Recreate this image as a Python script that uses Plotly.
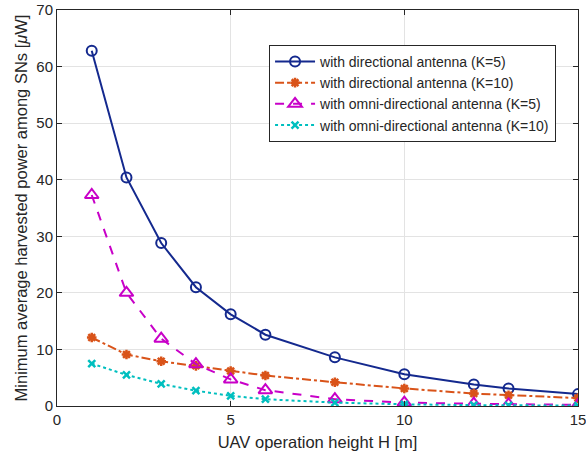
import plotly.graph_objects as go

H = [1, 2, 3, 4, 5, 6, 8, 10, 12, 13, 15]
dir_k5 = [62.8, 40.4, 28.8, 21.0, 16.2, 12.6, 8.6, 5.6, 3.8, 3.1, 2.1]
dir_k10 = [12.1, 9.1, 7.9, 7.1, 6.2, 5.4, 4.2, 3.1, 2.2, 1.9, 1.4]
omni_k5 = [37.3, 20.0, 11.9, 7.4, 4.7, 2.8, 1.2, 0.6, 0.4, 0.3, 0.2]
omni_k10 = [7.5, 5.5, 3.9, 2.7, 1.8, 1.2, 0.6, 0.3, 0.15, 0.1, 0.08]

names = ["with directional antenna (K=5)", "with directional antenna (K=10)",
         "with omni-directional antenna (K=5)", "with omni-directional antenna (K=10)"]

fig = go.Figure()
fig.add_trace(go.Scatter(x=H, y=dir_k5, name=names[0], mode="lines+markers",
                         line=dict(color="#14298e", width=2, dash="solid"),
                         marker=dict(symbol="circle-open", size=10, line=dict(width=2, color="#14298e"))))
fig.add_trace(go.Scatter(x=H, y=dir_k10, name=names[1], mode="lines+markers",
                         line=dict(color="#D95319", width=2, dash="dashdot"),
                         marker=dict(symbol="asterisk-open", size=8, line=dict(width=2.5, color="#D95319"))))
fig.add_trace(go.Scatter(x=H, y=omni_k5, name=names[2], mode="lines+markers",
                         line=dict(color="#C800C8", width=2, dash="dash"),
                         marker=dict(symbol="triangle-up-open", size=12, line=dict(width=2, color="#C800C8"))))
fig.add_trace(go.Scatter(x=H, y=omni_k10, name=names[3], mode="lines+markers",
                         line=dict(color="#00BFBF", width=2, dash="dot"),
                         marker=dict(symbol="x-thin-open", size=7, line=dict(width=2.5, color="#00BFBF"))))

axis_common = dict(showline=True, linecolor="#262626", linewidth=1, mirror="ticks",
                   ticks="inside", ticklen=5, tickcolor="#262626",
                   showgrid=True, gridcolor="#e3e3e3", gridwidth=1, zeroline=False,
                   automargin=False, ticklabeloverflow="allow",
                   tickfont=dict(size=15, color="#262626"))

fig.update_layout(
    width=586, height=457,
    margin=dict(l=57, r=8, t=10, b=51),
    plot_bgcolor="white", paper_bgcolor="white",
    font=dict(family="Liberation Sans, Arial, sans-serif", color="#262626"),
    xaxis=dict(range=[0, 15], tickvals=[0, 5, 10, 15],
               title=dict(text="UAV operation height H [m]", font=dict(size=16.5), standoff=9),
               **axis_common),
    yaxis=dict(range=[0, 70], tickvals=[0, 10, 20, 30, 40, 50, 60, 70],
               title=dict(text="Minimum average harvested power among SNs [<i>μ</i>W]", font=dict(size=16.5), standoff=4),
               **axis_common),
    legend=dict(x=0.407, y=0.912, xanchor="left", yanchor="top",
                bgcolor="white", bordercolor="#262626", borderwidth=1,
                font=dict(size=14, color="#262626"), tracegroupgap=0,
                itemwidth=40),
    showlegend=True,
)

fig.write_html("out.html")
